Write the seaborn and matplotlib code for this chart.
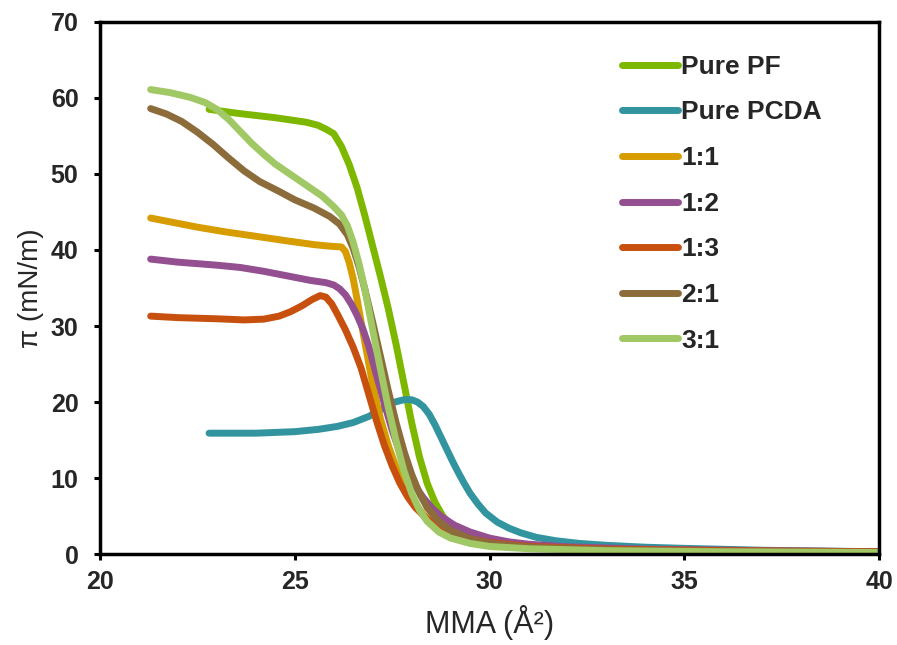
import numpy as np
import pandas as pd
import matplotlib
matplotlib.use("Agg")
import matplotlib.pyplot as plt
import seaborn as sns

# ---- data ----
pf_x = [22.8, 23.5, 24.5, 25.3, 25.6, 25.8, 26.0, 26.2, 26.4, 26.6, 26.8, 27.0, 27.2, 27.4, 27.6, 27.8, 28.0, 28.2, 28.4, 28.6, 28.8, 29.0, 29.3, 29.7, 30.2, 31, 32, 34, 37, 40]
pf_y = [58.5, 58.0, 57.4, 56.8, 56.4, 55.9, 55.3, 53.6, 51.2, 48.2, 44.5, 40.5, 36.5, 32.3, 27.6, 22.5, 17.3, 12.8, 9.3, 6.8, 5.0, 3.8, 2.7, 1.9, 1.3, 0.9, 0.7, 0.5, 0.35, 0.25]

pcda_x = [22.8, 24.0, 25.0, 25.6, 26.1, 26.5, 26.9, 27.2, 27.5, 27.8, 28.0, 28.15, 28.3, 28.45, 28.6, 28.75, 28.9, 29.05, 29.2, 29.35, 29.5, 29.7, 29.9, 30.2, 30.5, 30.8, 31.2, 31.7, 32.3, 33, 34, 35, 37, 40]
pcda_y = [15.9, 15.9, 16.1, 16.4, 16.8, 17.3, 18.1, 19.0, 19.9, 20.3, 20.3, 20.0, 19.4, 18.4, 17.0, 15.4, 13.8, 12.2, 10.7, 9.3, 8.0, 6.6, 5.4, 4.2, 3.4, 2.8, 2.2, 1.75, 1.4, 1.15, 0.9, 0.75, 0.5, 0.3]

r11_x = [21.3, 21.8, 22.5, 23.2, 24.0, 24.8, 25.5, 25.9, 26.2, 26.3, 26.4, 26.5, 26.6, 26.8, 27.0, 27.2, 27.4, 27.6, 27.8, 28.0, 28.3, 28.6, 29.0, 29.5, 30, 31, 33, 36, 40]
r11_y = [44.2, 43.7, 43.0, 42.4, 41.8, 41.2, 40.7, 40.5, 40.4, 39.8, 38.3, 36.2, 33.5, 27.8, 22.3, 17.8, 14.3, 11.4, 9.1, 7.2, 5.2, 3.8, 2.6, 1.8, 1.3, 0.85, 0.55, 0.35, 0.2]

r12_x = [21.3, 22, 23, 23.6, 24.2, 24.8, 25.4, 25.8, 26.0, 26.15, 26.3, 26.45, 26.6, 26.75, 26.9, 27.1, 27.3, 27.5, 27.7, 27.9, 28.1, 28.3, 28.55, 28.8, 29.1, 29.5, 30, 30.5, 31, 32, 34, 37, 40]
r12_y = [38.8, 38.4, 38.0, 37.7, 37.2, 36.6, 36.0, 35.7, 35.4, 34.9, 34.1, 32.9, 31.4, 29.6, 27.3, 23.5, 19.8, 16.3, 13.3, 10.8, 8.9, 7.4, 5.9, 4.8, 3.8, 2.9, 2.1, 1.6, 1.3, 0.95, 0.65, 0.45, 0.3]

r13_x = [21.3, 22, 23, 23.7, 24.2, 24.6, 24.9, 25.2, 25.45, 25.65, 25.8, 25.95, 26.1, 26.3, 26.5, 26.7, 26.9, 27.1, 27.3, 27.5, 27.7, 27.9, 28.1, 28.4, 28.8, 29.3, 30, 31, 33, 36, 40]
r13_y = [31.3, 31.1, 30.95, 30.8, 30.9, 31.3, 31.9, 32.7, 33.5, 34.0, 33.8, 32.9, 31.5, 29.5, 27.2, 24.5, 21.0, 17.5, 14.3, 11.6, 9.3, 7.5, 6.1, 4.6, 3.2, 2.2, 1.5, 1.0, 0.65, 0.45, 0.3]

r21_x = [21.3, 21.7, 22.1, 22.5, 22.9, 23.3, 23.7, 24.1, 24.6, 25.0, 25.5, 25.9, 26.15, 26.35, 26.5, 26.65, 26.8, 27.0, 27.2, 27.4, 27.6, 27.8, 28.0, 28.2, 28.4, 28.7, 29.0, 29.5, 30, 31, 33, 36, 40]
r21_y = [58.6, 57.9, 56.9, 55.5, 53.9, 52.1, 50.4, 49.0, 47.7, 46.6, 45.5, 44.4, 43.4, 42.0, 40.2, 37.8, 34.8, 30.5, 26.0, 21.5, 17.3, 13.6, 10.5, 8.0, 6.1, 4.3, 3.1, 2.0, 1.4, 0.9, 0.55, 0.35, 0.2]

r31_x = [21.3, 21.8, 22.3, 22.7, 23.0, 23.3, 23.6, 23.9, 24.2, 24.5, 24.9, 25.3, 25.7, 26.0, 26.2, 26.35, 26.5, 26.65, 26.8, 27.0, 27.2, 27.4, 27.6, 27.8, 28.0, 28.2, 28.4, 28.7, 29.0, 29.5, 30, 31, 33, 36, 40]
r31_y = [61.1, 60.7, 60.1, 59.4, 58.5, 57.2, 55.6, 54.0, 52.6, 51.3, 49.9, 48.5, 47.1, 45.7, 44.6, 43.2, 41.0, 38.2, 34.8, 29.5, 24.3, 19.3, 14.9, 11.0, 8.0, 5.8, 4.3, 2.9, 2.1, 1.4, 1.0, 0.7, 0.45, 0.3, 0.2]

labels = ["Pure PF", "Pure PCDA", "1:1", "1:2", "1:3", "2:1", "3:1"]
xs = [pf_x, pcda_x, r11_x, r12_x, r13_x, r21_x, r31_x]
ys = [pf_y, pcda_y, r11_y, r12_y, r13_y, r21_y, r31_y]
colors = ["#7DB700", "#31949F", "#D69C00", "#944F91", "#C8500F", "#8C6C3A", "#A0C864"]

x_ticks = [20, 25, 30, 35, 40]
y_ticks = [0, 10, 20, 30, 40, 50, 60, 70]

df = pd.concat([pd.DataFrame({"MMA": x, "pi": y, "series": lab})
                for x, y, lab in zip(xs, ys, labels)], ignore_index=True)

sns.set_theme(style="white")
plt.rcParams['font.family'] = ['Liberation Sans', 'DejaVu Sans']

fig = plt.figure(figsize=(8.97, 6.45), dpi=100)
ax = fig.add_axes([0.1115, 0.141, 0.8685, 0.825])

sns.lineplot(data=df, x="MMA", y="pi", hue="series", hue_order=labels,
             palette=dict(zip(labels, colors)), estimator=None, sort=False,
             linewidth=5.0, solid_capstyle="round", solid_joinstyle="round", ax=ax)

ax.set_xlim(20, 40)
ax.set_ylim(0, 70)
ax.set_xticks(x_ticks)
ax.set_yticks(y_ticks)
for lab in ax.get_xticklabels() + ax.get_yticklabels():
    lab.set_fontweight("bold")
    lab.set_fontsize(18)
ax.tick_params(axis="both", direction="out", length=4.5, width=2.2, color="black",
               bottom=True, left=True, top=False, right=False)
ax.tick_params(axis="x", pad=7)
ax.tick_params(axis="y", pad=11)
for sp in ax.spines.values():
    sp.set_color("black")
    sp.set_linewidth(2.5)
    sp.set_visible(True)

ax.set_xlabel("MMA (Å²)", fontsize=22, labelpad=8)
ax.set_ylabel("π (mN/m)", fontsize=20, labelpad=5)

leg = ax.legend(loc="upper left", bbox_to_anchor=(0.657, 0.958), frameon=False,
                handlelength=2.1, handletextpad=0.12, labelspacing=0.82,
                borderaxespad=0.0,
                prop={"weight": "bold", "size": 19})
for h in leg.get_lines():
    h.set_linewidth(5.0)
    h.set_solid_capstyle("round")

fig.savefig("out.png", dpi=100)
